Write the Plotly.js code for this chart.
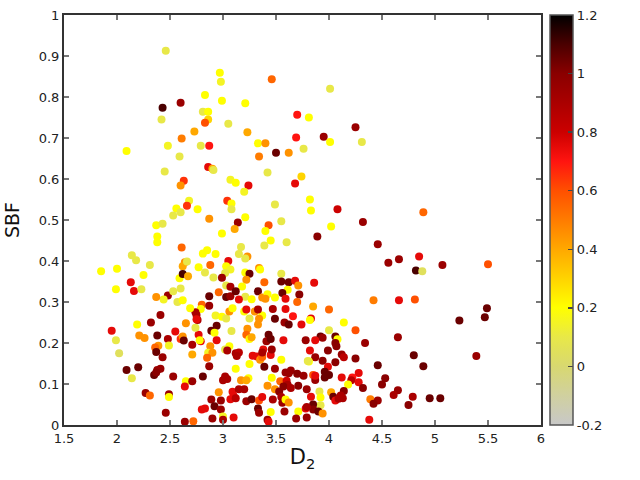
<!DOCTYPE html>
<html>
<head>
<meta charset="utf-8">
<script src="https://cdn.plot.ly/plotly-3.0.1.min.js"></script>
<style>html,body{margin:0;padding:0;background:#fff;}#chart{width:640px;height:480px;}</style>
</head>
<body>
<div id="chart"></div>
<script>
var d2 = [2.46,2.97,2.98,3.46,2.83,2.99,2.43,2.60,3.21,2.42,2.81,2.86,2.86,2.83,3.05,3.70,3.81,2.73,2.61,3.23,3.69,2.48,2.09,2.79,2.87,3.33,3.40,3.50,3.62,3.76,2.59,3.34,2.45,2.86,2.90,2.91,3.42,3.74,2.63,2.60,3.07,3.12,3.24,3.68,3.20,3.82,2.68,3.04,2.66,3.08,2.56,2.60,2.76,3.08,3.49,2.53,2.87,3.21,3.83,
4.01,4.25,3.95,4.01,4.31,4.08,4.89,
4.02,4.32,3.89,4.46,4.56,4.66,4.85,4.82,4.88,3.86,4.42,4.66,4.81,3.85,4.00,3.83,
5.07,5.50,5.49,5.47,5.23,5.39,4.89,4.95,5.05,
4.14,4.25,4.00,3.92,3.94,3.87,4.06,4.08,4.06,4.34,4.65,4.07,3.82,3.99,4.12,4.14,3.87,3.94,4.06,4.25,3.81,4.80,4.46,3.99,3.96,4.00,3.96,3.85,3.87,4.28,4.22,4.21,4.12,4.28,4.53,4.50,4.18,4.32,4.14,4.65,4.61,4.79,3.91,4.02,4.04,4.06,4.09,4.13,4.11,3.92,3.83,4.39,4.46,4.42,4.75,3.92,3.85,3.85,3.90,3.94,4.38,
2.93,2.99,3.03,3.06,3.20,3.30,3.37,3.34,3.49,3.66,3.82,3.74,3.58,3.62,3.33,3.25,2.89,2.94,2.92,3.08,3.23,3.22,3.25,3.27,3.43,3.41,3.45,3.57,3.78,2.79,2.94,2.88,3.06,3.02,3.04,2.86,2.90,2.85,3.12,3.15,3.13,3.28,3.32,3.35,3.37,3.38,3.37,3.45,3.46,3.55,3.25,3.39,3.80,3.49,2.87,3.12,2.81,3.02,3.04,3.00,3.17,3.24,3.22,3.42,3.46,3.54,3.59,3.62,3.64,3.70,3.76,3.87,3.60,3.61,3.57,2.96,3.09,3.15,3.20,3.49,3.53,3.64,3.71,3.79,3.10,3.07,3.12,3.22,3.27,3.34,3.37,3.47,3.55,3.56,3.59,3.62,2.89,2.98,2.92,2.98,2.83,2.80,3.33,3.34,3.45,3.58,3.71,3.78,3.79,3.00,2.90,3.00,3.10,3.42,3.43,3.69,3.79,
3.14,3.43,3.55,2.99,3.11,3.40,3.17,3.39,3.45,3.60,2.85,2.81,2.93,3.15,3.23,3.21,3.05,2.88,3.03,3.07,3.02,2.83,2.91,2.99,3.21,3.25,3.34,3.35,3.22,3.55,3.39,3.55,3.62,3.68,3.71,3.61,3.03,3.18,3.07,2.96,2.87,3.03,3.07,3.12,3.21,3.27,3.33,3.37,3.42,3.40,3.49,3.56,3.59,3.72,3.15,2.80,2.87,3.70,2.79,3.22,3.33,3.47,3.59,3.09,
2.37,2.43,2.38,2.38,2.61,2.14,2.18,2.31,2.64,2.62,2.66,2.59,2.62,2.67,1.85,2.00,1.99,2.13,2.16,2.25,2.23,2.48,2.53,2.60,2.44,2.37,2.57,2.62,2.77,2.32,2.41,1.95,1.99,2.02,2.19,2.21,2.26,2.38,2.39,2.36,2.37,2.43,2.48,2.49,2.55,2.60,2.62,2.63,2.71,2.77,2.74,2.76,2.74,2.75,2.75,2.78,2.65,2.69,2.65,2.64,2.71,2.53,2.41,2.38,2.35,2.37,2.09,2.20,2.14,2.27,2.31,2.49,2.49,2.46,2.64,2.72,2.71];

var sbf = [0.913,0.859,0.837,0.843,0.805,0.791,0.774,0.786,0.785,0.745,0.764,0.764,0.745,0.737,0.735,0.757,0.750,0.716,0.699,0.714,0.701,0.681,0.668,0.681,0.681,0.687,0.687,0.664,0.664,0.674,0.655,0.655,0.618,0.629,0.625,0.622,0.616,0.606,0.596,0.584,0.598,0.591,0.584,0.589,0.569,0.550,0.547,0.547,0.535,0.540,0.528,0.519,0.526,0.526,0.538,0.511,0.503,0.507,0.523,
0.820,0.726,0.703,0.690,0.690,0.526,0.519,
0.484,0.495,0.460,0.441,0.396,0.404,0.411,0.377,0.375,0.347,0.304,0.304,0.306,0.289,0.282,0.260,
0.390,0.392,0.285,0.263,0.255,0.168,0.143,0.065,0.065,
0.250,0.231,0.231,0.216,0.213,0.207,0.216,0.209,0.200,0.200,0.214,0.192,0.182,0.182,0.172,0.165,0.165,0.157,0.153,0.162,0.155,0.170,0.146,0.142,0.130,0.122,0.116,0.122,0.110,0.127,0.116,0.109,0.116,0.104,0.114,0.099,0.099,0.090,0.083,0.085,0.073,0.069,0.082,0.080,0.069,0.060,0.064,0.065,0.072,0.067,0.069,0.063,0.060,0.052,0.049,0.048,0.050,0.038,0.033,0.028,0.013,
0.267,0.264,0.260,0.277,0.277,0.277,0.267,0.259,0.259,0.265,0.256,0.245,0.250,0.245,0.245,0.260,0.230,0.242,0.225,0.229,0.235,0.220,0.210,0.214,0.220,0.204,0.210,0.207,0.207,0.204,0.207,0.192,0.192,0.184,0.182,0.176,0.176,0.164,0.175,0.177,0.168,0.169,0.167,0.159,0.166,0.184,0.177,0.171,0.184,0.159,0.149,0.142,0.156,0.137,0.143,0.137,0.118,0.118,0.112,0.109,0.109,0.114,0.109,0.096,0.115,0.107,0.128,0.126,0.133,0.125,0.120,0.120,0.108,0.098,0.094,0.080,0.081,0.087,0.087,0.087,0.082,0.090,0.096,0.087,0.071,0.063,0.065,0.058,0.063,0.060,0.068,0.062,0.068,0.054,0.062,0.055,0.062,0.060,0.046,0.038,0.040,0.038,0.040,0.030,0.032,0.033,0.033,0.040,0.044,0.021,0.016,0.013,0.018,0.013,0.008,0.016,0.018,
0.494,0.487,0.497,0.467,0.478,0.473,0.434,0.438,0.450,0.446,0.426,0.418,0.417,0.417,0.411,0.406,0.400,0.390,0.387,0.379,0.371,0.372,0.360,0.359,0.372,0.369,0.383,0.379,0.354,0.369,0.348,0.350,0.348,0.352,0.340,0.330,0.340,0.338,0.337,0.324,0.314,0.312,0.314,0.326,0.313,0.307,0.326,0.311,0.319,0.308,0.311,0.322,0.308,0.318,0.306,0.293,0.291,0.300,0.283,0.282,0.282,0.283,0.283,0.285,
0.487,0.491,0.460,0.446,0.433,0.414,0.402,0.390,0.397,0.387,0.399,0.358,0.368,0.363,0.375,0.381,0.331,0.348,0.327,0.366,0.331,0.316,0.326,0.333,0.306,0.312,0.300,0.304,0.385,0.250,0.268,0.230,0.207,0.175,0.245,0.218,0.212,0.218,0.193,0.189,0.178,0.165,0.210,0.194,0.228,0.210,0.216,0.206,0.196,0.220,0.237,0.256,0.275,0.268,0.258,0.207,0.248,0.285,0.107,0.094,0.107,0.118,0.137,0.134,0.122,0.128,0.134,0.141,0.114,0.078,0.072,0.075,0.068,0.030,0.008,0.009,0.172];

var colorVal = [0.1,0.2,0.15,0.55,0.2,0.2,1.1,0.95,0.2,0.1,0.1,0.2,0.3,0.6,0.1,0.7,0.2,0.4,0.5,0.4,0.7,0.15,0.2,0.1,0.7,0.2,0.45,1.05,0.45,0.1,0.1,0.5,0.1,0.75,0.4,0.1,0.1,0.3,0.65,0.45,0.15,0.2,0.75,0.75,0.15,0.2,0.15,0.65,0.65,0.2,0.2,0.1,0.2,0.1,0.1,0.1,0.45,0.2,0.2,
0.1,0.95,0.95,0.2,0.1,0.8,0.55,
0.2,0.95,1.0,0.95,0.95,0.95,0.75,1.1,0.05,0.75,0.5,0.75,0.6,0.4,0.55,0.75,
0.95,0.6,1.05,1.05,1.05,0.95,1.05,1.05,1.05,
0.2,0.6,0.1,1.05,0.95,0.75,1.05,0.2,1.0,0.95,0.95,1.0,0.75,1.0,0.95,0.85,0.95,1.0,1.0,1.0,0.2,1.05,1.05,0.75,1.05,1.05,1.05,0.6,0.95,0.75,0.7,0.85,0.75,0.75,1.0,1.0,0.2,1.0,1.0,0.95,0.9,0.9,0.1,0.4,1.05,0.75,0.9,0.9,0.9,0.2,0.75,0.5,0.95,1.0,1.0,0.1,1.05,1.0,1.05,0.45,0.75,
0.15,0.2,0.1,0.45,0.2,0.45,0.2,0.45,1.05,0.7,0.2,0.75,0.95,1.05,0.45,0.1,1.05,1.05,0.2,0.1,0.45,0.55,0.2,0.4,1.05,0.95,1.05,0.75,0.95,0.75,0.75,0.45,0.2,0.1,0.9,0.15,0.45,0.55,0.9,0.85,0.9,0.75,0.75,0.45,0.55,0.75,0.9,0.75,0.95,0.2,0.2,1.05,0.1,0.95,0.95,0.2,1.05,0.9,0.9,0.9,0.45,0.2,0.4,0.45,0.2,0.55,0.95,0.95,0.95,1.0,0.95,0.75,0.8,0.9,1.0,0.45,0.75,0.9,0.9,0.45,1.0,0.9,1.0,0.95,0.75,0.75,0.85,0.95,1.05,0.6,0.75,0.9,0.9,0.95,0.2,0.45,0.95,0.95,1.05,0.95,0.75,0.75,1.05,0.95,0.2,0.95,0.2,0.75,0.9,0.15,0.95,0.9,0.75,0.95,0.75,0.95,0.95,
0.95,0.6,0.1,0.2,0.4,0.2,0.1,0.1,0.2,0.1,0.2,0.2,0.2,0.1,0.45,0.1,0.75,0.55,0.2,0.15,0.1,0.1,0.1,0.95,0.2,1.05,0.45,0.2,0.45,0.1,0.55,1.05,1.05,0.75,0.45,0.2,0.1,0.2,0.9,0.55,1.05,1.05,0.95,1.05,0.1,0.2,1.05,0.45,0.2,0.45,0.2,1.05,0.75,1.0,0.75,0.55,0.95,0.55,0.2,0.75,0.9,0.9,0.75,0.2,
0.2,0.1,0.2,0.2,0.55,0.1,0.1,0.1,0.45,0.4,0.1,0.2,1.1,0.4,0.2,0.2,0.2,0.75,0.75,0.2,0.1,0.95,0.1,0.1,0.15,0.45,0.1,0.2,0.2,0.95,0.95,0.75,0.1,0.05,0.2,0.45,0.45,1.05,0.45,0.55,1.05,0.95,0.9,0.15,0.75,0.65,0.45,1.05,0.9,0.75,0.1,0.9,0.9,0.9,0.75,0.2,0.45,0.2,0.2,0.75,0.95,0.95,0.95,0.95,1.05,1.0,1.05,1.05,0.1,0.95,0.55,0.95,0.2,0.95,0.95,0.55,0.4];

var cbTickVals = [-0.2,0,0.2,0.4,0.6,0.8,1,1.2];
var cbTickText = ["-0.2","0","0.2","0.4","0.6","0.8","1","1.2"];
var xTickVals = [1.5,2,2.5,3,3.5,4,4.5,5,5.5,6];
var xTickText = ["1.5","2","2.5","3","3.5","4","4.5","5","5.5","6"];
var yTickVals = [0,0.1,0.2,0.3,0.4,0.5,0.6,0.7,0.8,0.9,1];
var yTickText = ["0","0.1","0.2","0.3","0.4","0.5","0.6","0.7","0.8","0.9","1"];

var colorscale = [
  [0.000, '#c8c8c8'],
  [0.071, '#d0d0a0'],
  [0.143, '#d8d870'],
  [0.214, '#e8e848'],
  [0.286, '#ffff00'],
  [0.357, '#ffd400'],
  [0.429, '#ffa800'],
  [0.500, '#ff7c00'],
  [0.571, '#ff5000'],
  [0.643, '#ff1410'],
  [0.714, '#cc0000'],
  [0.786, '#aa0000'],
  [0.857, '#8a0000'],
  [0.929, '#4a0000'],
  [1.000, '#000000']
];

var trace = {
  type: 'scatter',
  mode: 'markers',
  x: d2,
  y: sbf,
  marker: {
    size: 8,
    color: colorVal,
    colorscale: colorscale,
    cmin: -0.2,
    cmax: 1.2,
    line: {width: 0},
    showscale: true,
    colorbar: {
      x: 1.018, xanchor: 'left', xpad: 0,
      y: 0.5, yanchor: 'middle', len: 1, lenmode: 'fraction', ypad: 0,
      thickness: 23,
      outlinewidth: 1.5, outlinecolor: '#555',
      tickmode: 'array', tickvals: cbTickVals, ticktext: cbTickText,
      ticks: 'inside', ticklen: 5, tickcolor: '#444', tickwidth: 1.5,
      tickfont: {family: 'DejaVu Sans', size: 13, color: '#222'}
    }
  },
  hoverinfo: 'x+y'
};

var axisCommon = {
  showgrid: false, zeroline: false,
  showline: true, linecolor: '#333', linewidth: 2,
  mirror: 'ticks', ticks: 'inside', ticklen: 5, tickwidth: 1.5, tickcolor: '#777',
  tickfont: {family: 'DejaVu Sans', size: 13, color: '#222'},
  tickmode: 'array'
};

var layout = {
  width: 640, height: 480,
  margin: {l: 64, r: 99, t: 15, b: 55, pad: 0},
  paper_bgcolor: '#fff', plot_bgcolor: '#fff',
  showlegend: false,
  xaxis: Object.assign({}, axisCommon, {
    range: [1.5, 6], tickvals: xTickVals, ticktext: xTickText,
    title: {text: 'D<sub>2</sub>', font: {family: 'DejaVu Sans', size: 21, color: '#111'}, standoff: 5}
  }),
  yaxis: Object.assign({}, axisCommon, {
    range: [0, 1], tickvals: yTickVals, ticktext: yTickText,
    title: {text: 'SBF', font: {family: 'DejaVu Sans', size: 19, color: '#111'}, standoff: 14}
  })
};

Plotly.newPlot('chart', [trace], layout, {displayModeBar: false, staticPlot: true});
</script>
</body>
</html>
